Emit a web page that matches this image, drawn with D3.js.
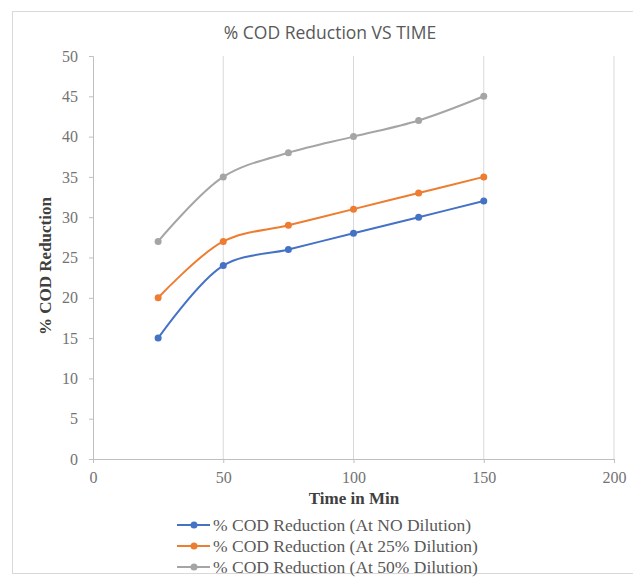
<!DOCTYPE html>
<html>
<head>
<meta charset="utf-8">
<script src="https://cdn.jsdelivr.net/npm/d3@7"></script>
<style>
  body { margin: 0; background: #fff; }
  svg text.serif { font-family: "Times New Roman", "Liberation Serif", serif; }
</style>
</head>
<body>
<div id="chart"></div>
<script>
// data
const times = [25, 50, 75, 100, 125, 150]
const noDilution = [15, 24, 26, 28, 30, 32]
const dil25 = [20, 27, 29, 31, 33, 35]
const dil50 = [27, 35, 38, 40, 42, 45]
const seriesNames = [
  '% COD Reduction (At NO Dilution)',
  '% COD Reduction (At 25% Dilution)',
  '% COD Reduction (At 50% Dilution)'
]
const xTicks = [0, 50, 100, 150, 200]
const yTicks = [0, 5, 10, 15, 20, 25, 30, 35, 40, 45, 50]

const colors = ['#4472C4', '#ED7D31', '#A5A5A5']
const series = [noDilution, dil25, dil50].map((vals, i) => ({
  name: seriesNames[i],
  color: colors[i],
  values: vals.map((v, j) => ({ t: times[j], v: v }))
}))

const width = 633
const height = 577

const svg = d3.select('#chart')
  .append('svg')
  .attr('width', width)
  .attr('height', height)

// chart frame
svg.append('rect')
  .attr('x', 12.5).attr('y', 11.5)
  .attr('width', 640).attr('height', 562)
  .attr('fill', 'none')
  .attr('stroke', '#d9d9d9')

const x = d3.scaleLinear().domain([0, 200]).range([93, 614])
const y = d3.scaleLinear().domain([0, 50]).range([459, 56])

// vertical gridlines
svg.append('g')
  .selectAll('line')
  .data(xTicks.filter(d => d > 0))
  .join('line')
  .attr('x1', d => x(d)).attr('x2', d => x(d))
  .attr('y1', y(50)).attr('y2', y(0))
  .attr('stroke', '#d9d9d9')

// y axis
const yAxis = svg.append('g')
  .attr('transform', `translate(${x(0)},0)`)
  .call(d3.axisLeft(y).tickValues(yTicks).tickSize(4).tickPadding(11))
  .attr('font-family', null)
  .attr('font-size', null)
yAxis.select('.domain').attr('stroke', '#bfbfbf')
yAxis.selectAll('.tick line').attr('stroke', '#bfbfbf')
yAxis.selectAll('.tick text')
  .attr('class', 'serif')
  .attr('fill', '#737373')
  .style('font-size', '16px')

// x axis
const xAxis = svg.append('g')
  .attr('transform', `translate(0,${y(0)})`)
  .call(d3.axisBottom(x).tickValues(xTicks).tickSize(4).tickPadding(9))
  .attr('font-family', null)
  .attr('font-size', null)
xAxis.select('.domain').attr('stroke', '#bfbfbf')
xAxis.selectAll('.tick line').attr('stroke', '#bfbfbf')
xAxis.selectAll('.tick text')
  .attr('class', 'serif')
  .attr('fill', '#737373')
  .style('font-size', '16px')

// title
svg.append('text')
  .attr('x', 330).attr('y', 39)
  .attr('text-anchor', 'middle')
  .attr('fill', '#595959')
  .style('font-family', 'Open Sans, Liberation Sans, sans-serif')
  .style('font-size', '17.5px')
  .text('% COD Reduction VS TIME')

// axis titles
svg.append('text')
  .attr('class', 'serif')
  .attr('transform', 'translate(51,266) rotate(-90)')
  .attr('text-anchor', 'middle')
  .attr('fill', '#404040')
  .style('font-size', '17px')
  .style('font-weight', 'bold')
  .text('% COD Reduction')

svg.append('text')
  .attr('class', 'serif')
  .attr('x', 354).attr('y', 504)
  .attr('text-anchor', 'middle')
  .attr('fill', '#404040')
  .style('font-size', '17px')
  .style('font-weight', 'bold')
  .text('Time in Min')

// smoothed lines with markers
const line = d3.line()
  .x(d => x(d.t))
  .y(d => y(d.v))
  .curve(d3.curveCatmullRom.alpha(0.5))

const g = svg.append('g')
g.selectAll('path')
  .data(series)
  .join('path')
  .attr('d', d => line(d.values))
  .attr('fill', 'none')
  .attr('stroke', d => d.color)
  .attr('stroke-width', 2)

series.forEach(s => {
  g.append('g')
    .selectAll('circle')
    .data(s.values)
    .join('circle')
    .attr('cx', d => x(d.t))
    .attr('cy', d => y(d.v))
    .attr('r', 3.5)
    .attr('fill', s.color)
})

// legend
const legend = svg.append('g')
  .attr('transform', 'translate(177,0)')
const rows = legend.selectAll('g')
  .data(series)
  .join('g')
  .attr('transform', (d, i) => `translate(0,${525 + i * 21})`)
rows.append('line')
  .attr('x1', 0).attr('x2', 33)
  .attr('stroke', d => d.color)
  .attr('stroke-width', 2)
rows.append('circle')
  .attr('cx', 17).attr('r', 3.5)
  .attr('fill', d => d.color)
rows.append('text')
  .attr('class', 'serif')
  .attr('x', 36).attr('y', 6)
  .attr('fill', '#595959')
  .style('font-size', '17.5px')
  .text(d => d.name)
</script>
</body>
</html>
